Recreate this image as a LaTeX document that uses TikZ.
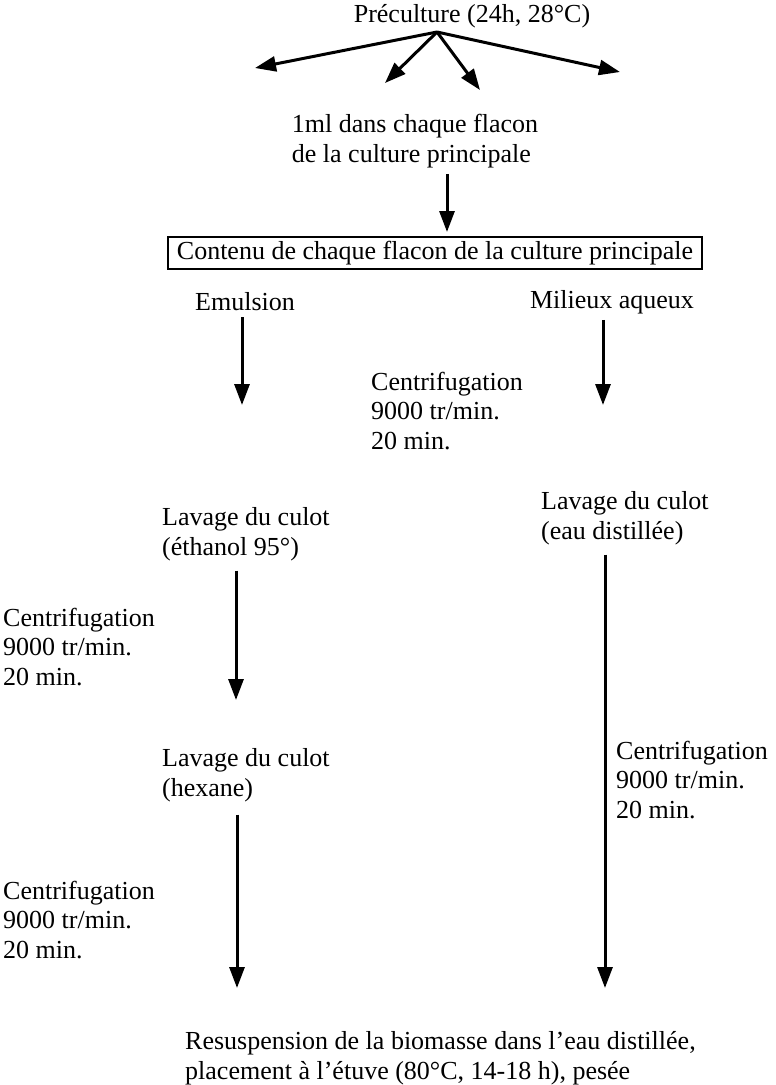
\documentclass[tikz,border=0pt]{standalone}
\usepackage{fontspec}
\setmainfont{Liberation Serif}
\usetikzlibrary{arrows.meta}
\begin{document}
\begin{tikzpicture}[x=1pt,y=-1pt,
  txt/.style={font=\fontsize{26}{29.5}\selectfont, inner sep=0pt, align=left},
  ctxt/.style={font=\fontsize{26}{29.5}\selectfont, inner sep=0pt, align=center},
  arr/.style={line width=3pt, -{Triangle[length=21pt,width=15pt]}}]
\useasboundingbox (0,0) rectangle (776,1085);
% top
\node[ctxt] (pre) at (472,16) {Préculture (24h, 28°C)};
\coordinate (apex) at (437,32);
\coordinate (t1) at (255,68);
\coordinate (t2) at (385,83);
\coordinate (t3) at (480,90);
\coordinate (t4) at (620,72);
\draw[arr] (apex) -- (t1);
\draw[arr] (apex) -- (t2);
\draw[arr] (apex) -- (t3);
\draw[arr] (apex) -- (t4);
\node[txt] (ml) at (415,141) {1ml dans chaque flacon\\de la culture principale};
\node[ctxt, draw, line width=1.2pt, inner xsep=9pt, inner ysep=4pt] (box) at (435,253) {Contenu de chaque flacon de la culture principale};
\coordinate (m1) at (447,232);
\draw[arr] (ml.south -| m1) ++(0,6) -- (m1);
\node[txt] (emul) at (245,302) {Emulsion};
\node[txt] (mil) at (612,302) {Milieux aqueux};
\node[txt, anchor=west] (c1) at (371,411) {Centrifugation\\9000 tr/min.\\20 min.};
\node[txt, anchor=west] (lav1) at (162,534) {Lavage du culot\\(éthanol 95°)};
\node[txt, anchor=west] (lav2) at (541,518) {Lavage du culot\\(eau distillée)};
\node[txt, anchor=west] (c2) at (3,647) {Centrifugation\\9000 tr/min.\\20 min.};
\node[txt, anchor=west] (lav3) at (162,775) {Lavage du culot\\(hexane)};
\node[txt, anchor=west] (c3) at (3,920) {Centrifugation\\9000 tr/min.\\20 min.};
\node[txt, anchor=west] (c4) at (616,780) {Centrifugation\\9000 tr/min.\\20 min.};
\node[txt, anchor=west] (fin) at (185,1058) {Resuspension de la biomasse dans l'eau distillée,\\placement à l'étuve (80°C, 14-18 h), pesée};
% arrows
\coordinate (e1) at (242,405);
\coordinate (e2) at (603,405);
\coordinate (e3) at (236,700);
\coordinate (e4) at (237,988);
\coordinate (e5) at (605,988);
\draw[arr] (emul.south -| e1) ++(0,6) -- (e1);
\draw[arr] (mil.south -| e2) ++(0,6) -- (e2);
\draw[arr] (lav1.south -| e3) ++(0,10) -- (e3);
\draw[arr] (lav3.south -| e4) ++(0,13) -- (e4);
\draw[arr] (lav2.south -| e5) ++(0,10) -- (e5);
\end{tikzpicture}
\end{document}
